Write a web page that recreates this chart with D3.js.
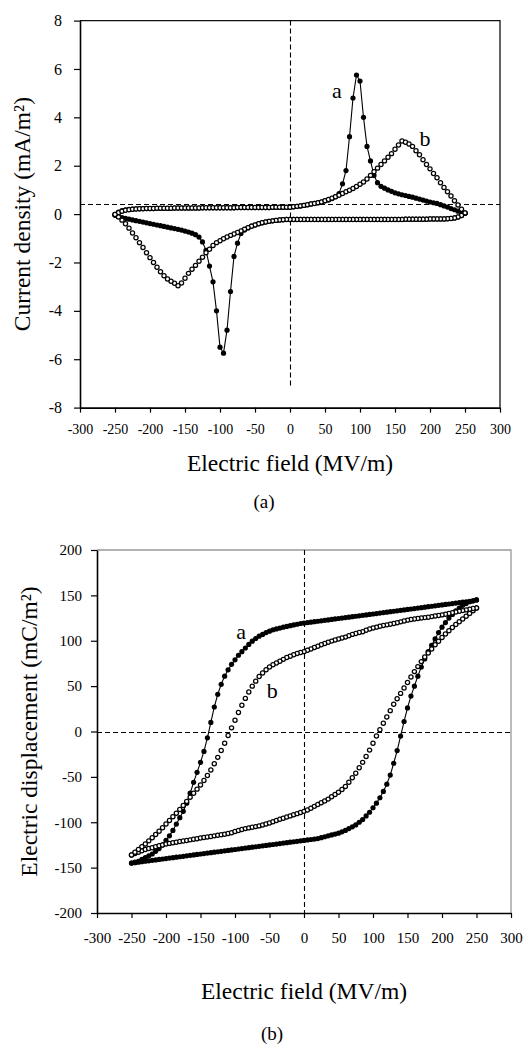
<!DOCTYPE html>
<html>
<head>
<meta charset="utf-8">
<script src="https://cdn.jsdelivr.net/npm/d3@7/dist/d3.min.js"></script>
<style>
  body { margin: 0; background: #fff; }
  text { font-family: "Liberation Serif", "Times New Roman", serif; fill: #000; }
</style>
</head>
<body>
<svg id="fig" width="530" height="1046"></svg>
<script>
// field sweep (MV/m), shared by every branch
const field = [-250,-245,-240,-235,-230,-225,-220,-215,-210,-205,
  -200,-195,-190,-185,-180,-175,-170,-165,-160,-155,
  -150,-145,-140,-135,-130,-125,-120,-115,-110,-105,
  -100,-95,-90,-85,-80,-75,-70,-65,-60,-55,
  -50,-45,-40,-35,-30,-25,-20,-15,-10,-5,
  0,5,10,15,20,25,30,35,40,45,
  50,55,60,65,70,75,80,85,90,95,
  100,105,110,115,120,125,130,135,140,145,
  150,155,160,165,170,175,180,185,190,195,
  200,205,210,215,220,225,230,235,240,245,
  250];

// (a) current density, mA/m2 -- "up" = rising field, "down" = falling field
const curAUp = [-0.04,0.08,0.14,0.18,0.2,0.21,0.22,0.22,0.23,0.23,
  0.23,0.23,0.24,0.24,0.24,0.24,0.24,0.25,0.25,0.25,
  0.25,0.25,0.25,0.25,0.25,0.26,0.26,0.26,0.26,0.26,
  0.26,0.26,0.26,0.26,0.26,0.27,0.27,0.27,0.27,0.27,
  0.27,0.27,0.27,0.27,0.27,0.28,0.28,0.28,0.28,0.28,
  0.28,0.3,0.32,0.34,0.36,0.39,0.42,0.44,0.47,0.5,
  0.55,0.58,0.64,0.72,0.85,1.25,1.8,3.2,4.8,5.75,
  5.5,4.0,2.8,2.2,1.6,1.3,1.15,1.07,1.0,0.94,
  0.88,0.84,0.8,0.77,0.73,0.7,0.66,0.62,0.58,0.54,
  0.5,0.47,0.44,0.39,0.34,0.29,0.23,0.18,0.12,0.07,
  0.03];
const curADown = [-0.04,-0.1,-0.14,-0.18,-0.21,-0.24,-0.27,-0.3,-0.33,-0.36,
  -0.39,-0.42,-0.45,-0.48,-0.51,-0.54,-0.57,-0.6,-0.63,-0.66,
  -0.7,-0.74,-0.79,-0.85,-0.95,-1.15,-1.5,-2.15,-2.8,-4.0,
  -5.5,-5.75,-4.8,-3.2,-1.75,-1.2,-0.8,-0.66,-0.57,-0.5,
  -0.45,-0.4,-0.36,-0.33,-0.3,-0.28,-0.26,-0.24,-0.23,-0.22,
  -0.22,-0.22,-0.22,-0.22,-0.22,-0.22,-0.22,-0.22,-0.22,-0.22,
  -0.22,-0.22,-0.22,-0.22,-0.22,-0.22,-0.22,-0.22,-0.22,-0.22,
  -0.22,-0.22,-0.22,-0.22,-0.22,-0.22,-0.22,-0.22,-0.22,-0.22,
  -0.22,-0.22,-0.22,-0.21,-0.21,-0.21,-0.21,-0.21,-0.21,-0.21,
  -0.2,-0.2,-0.2,-0.2,-0.2,-0.19,-0.18,-0.16,-0.12,-0.06,
  0.03];
const curBUp = [-0.02,0.06,0.12,0.16,0.18,0.2,0.21,0.22,0.22,0.23,
  0.23,0.23,0.24,0.24,0.24,0.24,0.24,0.25,0.25,0.25,
  0.25,0.25,0.25,0.25,0.25,0.26,0.26,0.26,0.26,0.26,
  0.26,0.26,0.26,0.26,0.26,0.27,0.27,0.27,0.27,0.27,
  0.27,0.27,0.27,0.27,0.27,0.28,0.28,0.28,0.28,0.28,
  0.28,0.3,0.32,0.34,0.36,0.39,0.42,0.44,0.47,0.5,
  0.55,0.6,0.66,0.72,0.78,0.85,0.92,0.99,1.06,1.14,
  1.23,1.33,1.45,1.6,1.75,1.9,2.05,2.2,2.35,2.5,
  2.68,2.86,3.02,2.97,2.9,2.8,2.62,2.45,2.25,2.05,
  1.87,1.68,1.5,1.3,1.1,0.92,0.75,0.55,0.38,0.2,
  0.05];
const curBDown = [-0.02,-0.12,-0.25,-0.4,-0.58,-0.78,-0.98,-1.18,-1.38,-1.6,
  -1.8,-2.0,-2.2,-2.38,-2.55,-2.68,-2.78,-2.86,-2.96,-2.85,
  -2.65,-2.45,-2.28,-2.12,-1.95,-1.78,-1.6,-1.45,-1.3,-1.18,
  -1.1,-1.02,-0.95,-0.88,-0.82,-0.76,-0.7,-0.63,-0.56,-0.5,
  -0.45,-0.4,-0.36,-0.33,-0.3,-0.28,-0.26,-0.24,-0.23,-0.22,
  -0.22,-0.22,-0.22,-0.22,-0.22,-0.22,-0.22,-0.22,-0.22,-0.22,
  -0.22,-0.22,-0.22,-0.22,-0.22,-0.22,-0.22,-0.22,-0.22,-0.22,
  -0.22,-0.22,-0.22,-0.22,-0.22,-0.22,-0.22,-0.22,-0.22,-0.22,
  -0.22,-0.22,-0.22,-0.21,-0.21,-0.21,-0.21,-0.21,-0.21,-0.21,
  -0.2,-0.2,-0.2,-0.2,-0.2,-0.19,-0.18,-0.16,-0.12,-0.06,
  0.05];

// (b) electric displacement, mC/m2
const dispAUp = [-145,-144.5,-144,-143.5,-143,-142.5,-142,-141.5,-141,-140.5,
  -140,-139.5,-139,-138.5,-138,-137.5,-137,-136.5,-136,-135.5,
  -135,-134.5,-134,-133.5,-133,-132.5,-132,-131.5,-131,-130.5,
  -130,-129.5,-129,-128.5,-128,-127.5,-127,-126.5,-126,-125.5,
  -125,-124.5,-124,-123.5,-123,-122.5,-122,-121.5,-121,-120.5,
  -120,-119.5,-119,-118.5,-118,-117,-116,-115,-114,-113,
  -112,-110.5,-109,-107,-105,-103,-100,-97,-93,-89,
  -84,-79,-73,-66,-58,-48,-35,-21,-5,11,
  26,39,50,61,71,80,88,95,102,109,
  115,120,125,129,133,136,139,141,143,144,
  145];
const dispADown = [-145,-144,-143,-141,-139,-137,-135,-132,-129,-125,
  -120,-115,-109,-102,-95,-88,-79,-68,-56,-45,
  -34,-22,-7,10,27,41,52,61,68,74,
  79,84,88,92,96,99.5,102.5,105,107,109,
  110.5,112,113,114,115,115.8,116.6,117.4,118.2,119,
  119.5,120,120.5,121,121.5,122,122.5,123,123.5,124,
  124.5,125,125.5,126,126.5,127,127.5,128,128.5,129,
  129.5,130,130.5,131,131.5,132,132.5,133,133.5,134,
  134.5,135,135.5,136,136.5,137,137.5,138,138.5,139,
  139.5,140,140.5,141,141.5,142,142.5,143,143.5,144,
  145];
const dispBUp = [-136,-134.5,-133,-131.5,-130,-129,-128,-127,-126,-125,
  -124,-123.3,-122.6,-122,-121.3,-120.7,-120,-119.4,-118.8,-118.2,
  -117.3,-116.8,-116.2,-115.6,-115,-114.4,-113.8,-113.2,-112.5,-111.5,
  -110.3,-109.2,-108,-107,-106.2,-105.5,-104.8,-104,-103,-102,
  -100.8,-99.5,-98,-96.8,-95.5,-94.2,-93,-91.8,-90.5,-89.2,
  -88,-86.5,-84.5,-82.5,-80.5,-78.5,-76.5,-74.5,-72,-69.5,
  -67,-64,-60.5,-56,-51,-46,-40,-34,-27.5,-20.5,
  -13,-5,2,9,16,23,30,36,42,48,
  54,60,66,71.5,77,82,86.5,91,95.5,99.5,
  103.5,107.5,111,114.5,118,121,124,127,130,133,
  136];
const dispBDown = [-136,-133,-130,-127,-124,-120.5,-117,-113.5,-110,-106,
  -102,-98,-94,-90,-86,-81.5,-77,-72.5,-68,-63.5,
  -59,-54,-48.5,-42.5,-35.5,-28.5,-21,-13,-4.5,4,
  12.5,21,29,36.5,43.5,50,55.5,60.5,64.5,68,
  71,73.5,75.5,77.5,79.5,81.5,83,84.5,86,87,
  88,89.5,91,92.5,94,95.5,97,98.3,99.6,100.8,
  102,103,104,105.5,107,108,109,110,111.5,113,
  114,115,116,116.8,117.5,118.2,119,119.8,120.8,121.8,
  122.7,123.5,124,124.5,125,125.5,126,126.6,127.2,127.8,
  128.5,129.2,130,130.8,131.6,132.4,133.2,134,134.8,135.5,
  136];

const fieldTicks = [-300,-250,-200,-150,-100,-50,0,50,100,150,200,250,300];
const curTicks = [-8,-6,-4,-2,0,2,4,6,8];
const dispTicks = [-200,-150,-100,-50,0,50,100,150,200];

const serif = '"Liberation Serif", "Times New Roman", serif';
const svg = d3.select("#fig");
svg.append("rect").attr("width", 530).attr("height", 1046).attr("fill", "#fff");

// loop = rising branch, then falling branch back from +250
const loopPoints = (up, down) =>
  field.map((e, i) => [e, up[i]]).concat(field.map((e, i) => [e, down[i]]).reverse());

function panel(opt) {
  const x = d3.scaleLinear().domain([-300, 300]).range(opt.xr);
  const y = d3.scaleLinear().domain(opt.yd).range(opt.yr);
  const g = svg.append("g");

  // frame (top / right)
  g.append("path")
    .attr("d", `M${x(-300)},${y(opt.yd[1])}H${x(300)}V${y(opt.yd[0])}`)
    .attr("fill", "none").attr("stroke", opt.frame).attr("stroke-width", 1.3);

  // dashed guides (snapped to half pixels so they stay dark)
  const hy = Math.round(y(opt.hDash)) + 0.5, vx = Math.round(x(0)) + 0.5;
  g.append("line")
    .attr("x1", x(-300)).attr("x2", x(300)).attr("y1", hy).attr("y2", hy)
    .attr("stroke", "#000").attr("stroke-width", 1.1).attr("stroke-dasharray", "5,3");
  g.append("line")
    .attr("x1", vx).attr("x2", vx)
    .attr("y1", y(opt.vDash[0])).attr("y2", y(opt.vDash[1]))
    .attr("stroke", "#000").attr("stroke-width", 1.1).attr("stroke-dasharray", "5,3");

  // axes
  const xa = g.append("g").attr("transform", `translate(0,${y(opt.yd[0])})`)
    .call(d3.axisBottom(x).tickValues(fieldTicks).tickFormat(d => String(d))
      .tickSize(5).tickSizeOuter(0).tickPadding(opt.xPad));
  xa.attr("font-family", serif).attr("font-size", opt.xFont);
  const ya = g.append("g").attr("transform", `translate(${x(-300)},0)`)
    .call(d3.axisLeft(y).tickValues(opt.yTicks).tickFormat(d => String(d))
      .tickSize(6).tickSizeOuter(0).tickPadding(opt.yPad));
  ya.attr("font-family", serif).attr("font-size", opt.yFont);
  g.selectAll(".domain").attr("stroke", "#000").attr("stroke-width", 1.6);
  g.selectAll(".tick line").attr("stroke", "#000").attr("stroke-width", 1.2);
  g.selectAll(".tick text").attr("fill", "#000");

  // loop a : filled dots joined by a line
  const ptsA = loopPoints(opt.aUp, opt.aDown);
  g.append("path")
    .attr("d", d3.line().x(d => x(d[0])).y(d => y(d[1]))(ptsA))
    .attr("fill", "none").attr("stroke", "#000").attr("stroke-width", 1.1);
  g.selectAll(".ca").data(ptsA).join("circle").attr("class", "ca")
    .attr("cx", d => x(d[0])).attr("cy", d => y(d[1])).attr("r", 2.6)
    .attr("fill", "#000");

  // loop b : open dots
  const ptsB = loopPoints(opt.bUp, opt.bDown);
  g.selectAll(".cb").data(ptsB).join("circle").attr("class", "cb")
    .attr("cx", d => x(d[0])).attr("cy", d => y(d[1])).attr("r", 2.1)
    .attr("fill", "#fff").attr("stroke", "#000").attr("stroke-width", 1.25);

  // curve labels
  opt.labels.forEach(l => {
    g.append("text").attr("x", x(l.e)).attr("y", y(l.v))
      .attr("text-anchor", "middle").style("font-size", "22px").text(l.t);
  });

  // titles
  g.append("text").attr("x", x(0)).attr("y", opt.xTitleY)
    .attr("text-anchor", "middle").style("font-size", "23.5px")
    .text("Electric field (MV/m)");
  g.append("text")
    .attr("transform", `translate(${opt.yTitleX},${y(0)}) rotate(-90)`)
    .attr("text-anchor", "middle").style("font-size", "23.5px")
    .text(opt.yTitle);
  g.append("text").attr("x", opt.capX).attr("y", opt.capY)
    .attr("text-anchor", "middle").style("font-size", "19px").text(opt.cap);
}

panel({
  xr: [80, 500], yd: [-8, 8], yr: [407.6, 20.6],
  frame: "#111", hDash: 0.4, vDash: [8, -7.1],
  yTicks: curTicks, xFont: 14, yFont: 16, xPad: 11, yPad: 12,
  aUp: curAUp, aDown: curADown, bUp: curBUp, bDown: curBDown,
  labels: [{t: "a", e: 67, v: 4.8}, {t: "b", e: 193, v: 2.8}],
  xTitleY: 471, yTitleX: 30, yTitle: "Current density (mA/m²)",
  cap: "(a)", capX: 264, capY: 508
});

panel({
  xr: [97, 511], yd: [-200, 200], yr: [913, 550],
  frame: "#999", hDash: 0, vDash: [200, -200],
  yTicks: dispTicks, xFont: 15, yFont: 15, xPad: 14, yPad: 9,
  aUp: dispAUp, aDown: dispADown, bUp: dispBUp, bDown: dispBDown,
  labels: [{t: "a", e: -91, v: 102}, {t: "b", e: -46, v: 37}],
  xTitleY: 999, yTitleX: 37, yTitle: "Electric displacement (mC/m²)",
  cap: "(b)", capX: 272, capY: 1040
});
</script>
</body>
</html>
